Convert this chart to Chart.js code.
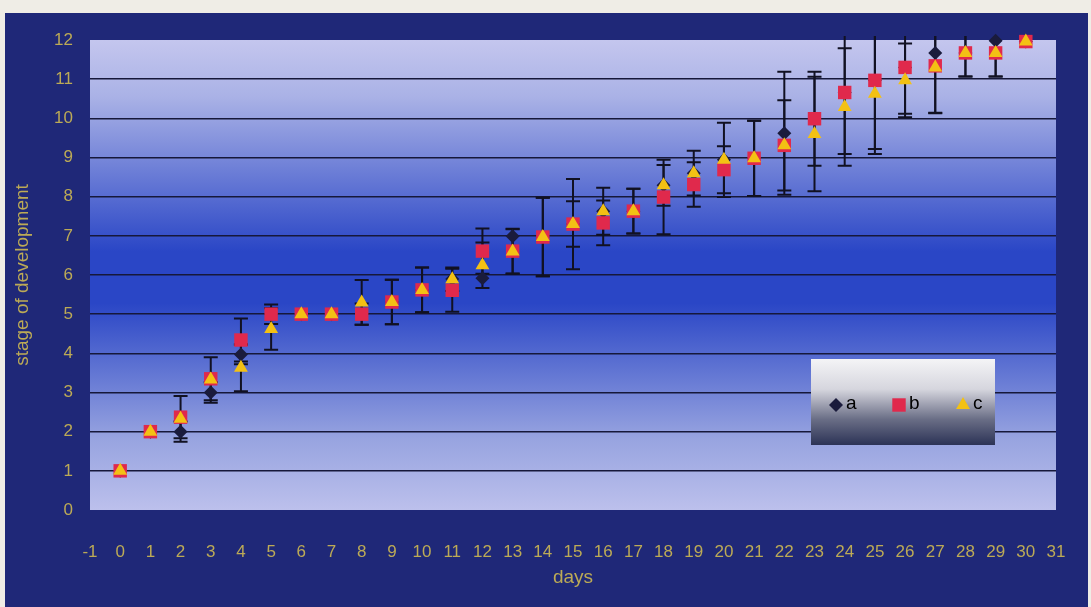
<!DOCTYPE html>
<html>
<head>
<meta charset="utf-8">
<title>stage of development</title>
<script src="https://cdn.jsdelivr.net/npm/chart.js@4.4.0/dist/chart.umd.min.js"></script>
<style>
  html, body { margin: 0; padding: 0; background: #efede6; }
  #wrap { width: 1091px; height: 607px; }
</style>
</head>
<body>
<div id="wrap"><canvas id="myChart" width="1091" height="607"></canvas></div>
<script>
// values, one entry per day 0..30
var days = [0, 1, 2, 3, 4, 5, 6, 7, 8, 9, 10, 11, 12, 13, 14, 15, 16, 17, 18, 19, 20, 21, 22, 23, 24, 25, 26, 27, 28, 29, 30];
var stageA = [1, 2, 2.0, 3.0, 3.97, 5, 5, 5, 5, 5.31, 5.62, 5.9, 5.92, 6.99, 6.97, 7.3, 7.63, 7.63, 8.29, 8.6, 8.94, 8.98, 9.62, 9.99, 10.66, 10.97, 11.3, 11.67, 11.67, 11.98, 11.96];
var stageB = [1, 2, 2.37, 3.35, 4.34, 5, 5, 5, 5, 5.31, 5.62, 5.61, 6.61, 6.61, 6.97, 7.3, 7.33, 7.63, 7.99, 8.31, 8.69, 8.98, 9.31, 9.99, 10.66, 10.97, 11.3, 11.34, 11.67, 11.67, 11.96];
var stageC = [1, 2, 2.33, 3.33, 3.63, 4.62, 5, 5, 5.3, 5.31, 5.62, 5.89, 6.25, 6.6, 6.97, 7.3, 7.63, 7.63, 8.29, 8.6, 8.94, 8.98, 9.31, 9.6, 10.29, 10.63, 10.97, 11.3, 11.67, 11.67, 11.96];
// +/- error per day
var errA = [0, 0, 0.26, 0.26, 0.25, 0, 0, 0, 0, 0, 0, 0, 0, 0, 0, 0, 0, 0, 0, 0, 0, 0, 1.57, 0, 0, 0, 0, 0, 0, 0, 0];
var errB = [0, 0, 0.54, 0.55, 0.55, 0.25, 0, 0, 0.27, 0.57, 0.57, 0.55, 0.58, 0.57, 1.0, 1.15, 0.57, 0.57, 0.95, 0.57, 0.6, 0.96, 1.15, 1.2, 1.57, 1.75, 1.18, 1.2, 0.6, 0.6, 0];
var errC = [0, 0, 0, 0, 0.6, 0.53, 0, 0, 0.57, 0.57, 0.57, 0.3, 0.58, 0.57, 1.0, 0.58, 0.6, 0.57, 0.52, 0.57, 0.95, 0.96, 0, 1.46, 1.5, 1.54, 0.94, 1.17, 0.6, 0.6, 0];
var seriesNames = ["a", "b", "c"];
var xMin = -1, xMax = 31;
var yMin = 0, yMax = 12;

function toPoints(ys, errs) {
    return days.map(function (d, i) { return { x: d, y: ys[i], err: errs[i] }; });
}

var tickColor = "#bcaa56";
var font = "'Liberation Sans', Arial, sans-serif";

var background = {
    id: "background",
    beforeDraw: function (chart) {
        var c = chart.ctx, a = chart.chartArea;
        c.save();
        c.fillStyle = "#efede6";
        c.fillRect(0, 0, chart.width, chart.height);
        c.fillStyle = "#1f2878";
        c.fillRect(5, 13, 1083, chart.height - 13);
        var g = c.createLinearGradient(0, a.top, 0, a.bottom);
        g.addColorStop(0, "#c4c6ee");
        g.addColorStop(0.12, "#aab2e6");
        g.addColorStop(0.45, "#2a46c6");
        g.addColorStop(0.56, "#2a46c6");
        g.addColorStop(0.85, "#98a4e0");
        g.addColorStop(1, "#bcc0ec");
        c.fillStyle = g;
        c.fillRect(a.left, a.top, a.right - a.left, a.bottom - a.top);
        c.restore();
    }
};

var errorBars = {
    id: "errorBars",
    beforeDatasetsDraw: function (chart) {
        var c = chart.ctx, a = chart.chartArea;
        var xs = chart.scales.x, ys = chart.scales.y;
        c.save();
        c.beginPath();
        c.rect(a.left, a.top - 4, a.right - a.left, a.bottom - a.top + 4);
        c.clip();
        c.strokeStyle = "#111122";
        c.lineWidth = 2;
        chart.data.datasets.forEach(function (ds) {
            ds.data.forEach(function (p) {
                if (!p.err) return;
                var px = xs.getPixelForValue(p.x);
                var top = ys.getPixelForValue(p.y + p.err);
                var bot = ys.getPixelForValue(p.y - p.err);
                c.beginPath();
                c.moveTo(px, top); c.lineTo(px, bot);
                c.moveTo(px - 7, top); c.lineTo(px + 7, top);
                c.moveTo(px - 7, bot); c.lineTo(px + 7, bot);
                c.stroke();
            });
        });
        c.restore();
    }
};

var legendBox = {
    id: "legendBox",
    afterDraw: function (chart) {
        var c = chart.ctx;
        var x0 = 811, y0 = 359, w = 184, h = 86;
        c.save();
        var g = c.createLinearGradient(0, y0, 0, y0 + h);
        g.addColorStop(0, "#f4f4f6");
        g.addColorStop(0.35, "#d6d6de");
        g.addColorStop(0.7, "#6a6e86");
        g.addColorStop(1, "#2c3356");
        c.fillStyle = g;
        c.fillRect(x0, y0, w, h);
        var cy = 405;
        var items = [{ x: 836, style: "rectRot", r: 7 }, { x: 899, style: "rect", r: 9.5 }, { x: 963, style: "triangle", r: 8 }];
        chart.data.datasets.forEach(function (ds, i) {
            var it = items[i];
            c.fillStyle = ds.backgroundColor;
            c.strokeStyle = ds.backgroundColor;
            Chart.helpers.drawPoint(c, { pointStyle: it.style, radius: it.r, borderWidth: 0, rotation: 0 }, it.x, cy);
            c.fillStyle = "#000";
            c.font = "19px " + font;
            c.textBaseline = "middle";
            c.fillText(seriesNames[i], it.x + 10, cy - 1);
        });
        c.restore();
    }
};

var ctx = document.getElementById("myChart");
var myChart = new Chart(ctx, {
    type: "scatter",
    data: {
        datasets: [
            { label: seriesNames[0], data: toPoints(stageA, errA), pointStyle: "rectRot", pointRadius: 7, backgroundColor: "#1a1b3c", borderWidth: 0, order: 3, clip: false },
            { label: seriesNames[1], data: toPoints(stageB, errB), pointStyle: "rect", pointRadius: 9.5, backgroundColor: "#e0294c", borderWidth: 0, order: 2, clip: false },
            { label: seriesNames[2], data: toPoints(stageC, errC), pointStyle: "triangle", pointRadius: 8, backgroundColor: "#f3c114", borderWidth: 0, order: 1, clip: false }
        ]
    },
    options: {
        responsive: false,
        animation: false,
        events: [],
        layout: { padding: { left: 0, right: 35, top: 40, bottom: 18 } },
        plugins: { legend: { display: false }, tooltip: { enabled: false } },
        scales: {
            x: {
                type: "linear",
                min: xMin, max: xMax,
                ticks: { stepSize: 1, color: tickColor, padding: 32, font: { size: 17, family: font }, maxRotation: 0, autoSkip: false },
                grid: { display: false, drawTicks: false },
                border: { display: false },
                title: { display: true, text: "days", color: tickColor, font: { size: 19, family: font }, padding: { top: 0, bottom: 0 } },
                afterFit: function (s) { s.height = 79; s.paddingLeft = 0; s.paddingRight = 0; }
            },
            y: {
                min: yMin, max: yMax,
                ticks: { stepSize: 1, color: tickColor, padding: 17, font: { size: 17, family: font } },
                grid: {
                    drawTicks: false,
                    lineWidth: 1.6,
                    color: function (c) { return (c.tick.value === yMin || c.tick.value === yMax) ? "rgba(0,0,0,0)" : "#16183a"; }
                },
                border: { display: false },
                title: { display: true, text: "stage of development", color: tickColor, font: { size: 19, family: font }, padding: { top: 11, bottom: 0 } },
                afterFit: function (s) { s.width = 90; }
            }
        }
    },
    plugins: [background, errorBars, legendBox]
});
</script>
</body>
</html>
